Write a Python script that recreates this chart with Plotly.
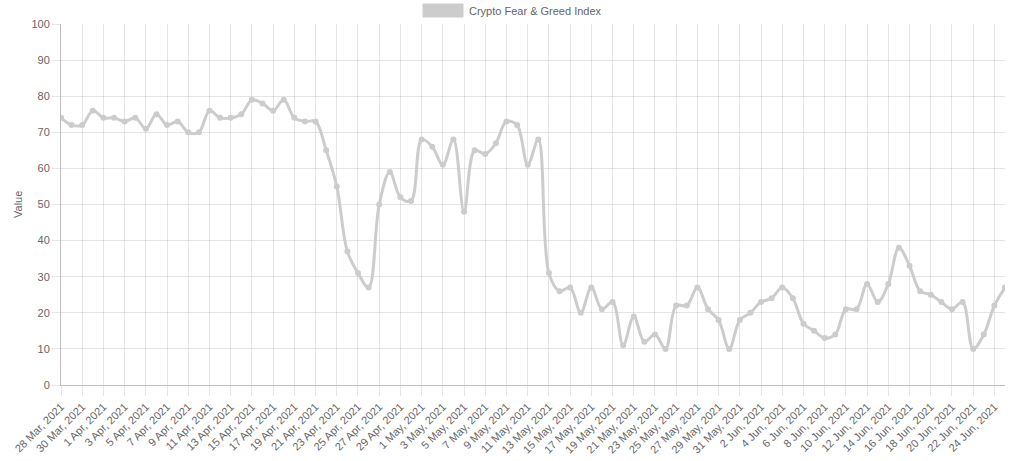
import plotly.graph_objects as go
import pandas as pd

start_date = "2021-03-28"
values = [74, 72, 72, 76, 74, 74, 73, 74, 71, 75,
          72, 73, 70, 70, 76, 74, 74, 75, 79, 78,
          76, 79, 74, 73, 73, 65, 55, 37, 31, 27,
          50, 59, 52, 51, 68, 66, 61, 68, 48, 65,
          64, 67, 73, 72, 61, 68, 31, 26, 27, 20,
          27, 21, 23, 11, 19, 12, 14, 10, 22, 22,
          27, 21, 18, 10, 18, 20, 23, 24, 27, 24,
          17, 15, 13, 14, 21, 21, 28, 23, 28, 38,
          33, 26, 25, 23, 21, 23, 10, 14, 22, 27]
dates = pd.date_range(start_date, periods=len(values), freq="D")
series_name = "Crypto Fear & Greed Index"
y_title = "Value"

line_color = "rgb(204,204,204)"
grid = "rgba(0,0,0,0.1)"
axis_line = "rgba(0,0,0,0.25)"
font = "Liberation Sans, Arial, Helvetica, sans-serif"
fs = 11

W, H = 1024, 461
L, R, T, B = 61, 19, 24, 76
pw, ph = W - L - R, H - T - B

fig = go.Figure()
fig.add_trace(go.Scatter(
    x=dates, y=values, mode="lines+markers", name=series_name,
    line=dict(color=line_color, width=3, shape="spline", smoothing=1.0),
    marker=dict(color=line_color, size=6),
    showlegend=False, hoverinfo="x+y"))

fig.update_layout(
    width=W, height=H,
    margin=dict(l=L, r=R, t=T, b=B),
    paper_bgcolor="white", plot_bgcolor="white",
    font=dict(family=font, size=fs, color="#666"),
)
fig.update_xaxes(
    range=[dates[0], dates[-1]],
    tick0=dates[0], dtick=2 * 86400000,
    tickformat="%-d %b, %Y", tickangle=-45,
    showgrid=True, gridcolor=grid, gridwidth=1,
    ticks="outside", ticklen=10, tickcolor=grid,
    showline=True, linecolor=axis_line, linewidth=1,
    tickfont=dict(size=fs, color="#666"), zeroline=False,
    automargin=False)
fig.update_yaxes(
    range=[0, 100], dtick=10,
    showgrid=True, gridcolor=grid, gridwidth=1,
    ticks="outside", ticklen=8, tickcolor=grid,
    showline=True, linecolor=axis_line, linewidth=1,
    zeroline=False, automargin=False,
    tickfont=dict(size=fs, color="#666"))

# legend box drawn like Chart.js (page coords -> paper coords)
def px(x):
    return (x - L) / pw

def py(y):
    return (H - B - y) / ph

fig.add_shape(type="rect", xref="paper", yref="paper",
              x0=px(423), x1=px(463), y0=py(17), y1=py(4),
              fillcolor=line_color, line=dict(color=line_color, width=1))
fig.add_annotation(xref="paper", yref="paper", x=px(467), y=py(10.5),
                   text=series_name, showarrow=False, xanchor="left", yanchor="middle",
                   font=dict(size=fs, color="#666", family=font))
# y-axis title
fig.add_annotation(xref="paper", yref="paper", x=px(18), y=py(205),
                   text=y_title, showarrow=False, textangle=-90,
                   xanchor="center", yanchor="middle",
                   font=dict(size=fs, color="#666", family=font))

fig.write_html("out.html", config={"displayModeBar": False},
               post_script="document.body.style.margin='0';")
